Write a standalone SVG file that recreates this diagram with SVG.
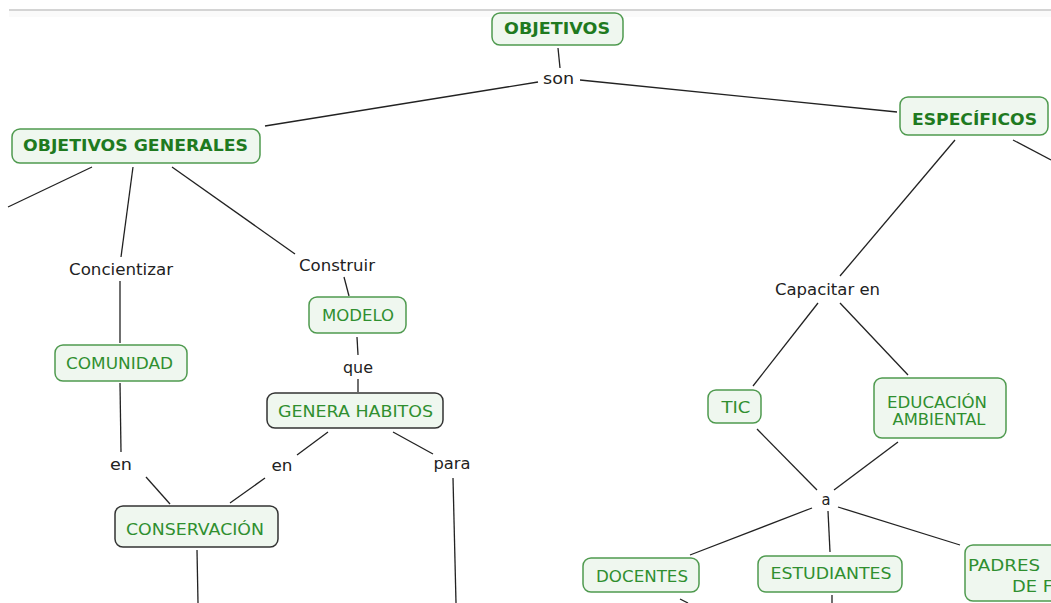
<svg xmlns="http://www.w3.org/2000/svg" width="1051" height="603" viewBox="0 0 1051 603">
  <style>
    .node rect { fill: #eff7ef; stroke: #4f9a4f; stroke-width: 1.5; }
    .node.dark rect { stroke: #333333; }
    .node text { font-family: "DejaVu Sans", Verdana, sans-serif; font-size: 16px; fill: #2f8f2f; text-anchor: middle; }
    .node.main text { font-weight: bold; font-size: 15.5px; fill: #1f7a1f; }
    .lbl { font-family: "DejaVu Sans", Verdana, sans-serif; font-size: 16px; fill: #222222; text-anchor: middle; }
    .links line { stroke: #222222; stroke-width: 1.3; fill: none; }
  </style>

  <rect x="0" y="0" width="1051" height="603" fill="#ffffff"/>
  <!-- top rule -->
  <rect x="9" y="11" width="1042" height="6" fill="#fafafa"/>
  <line x1="9" y1="10" x2="1051" y2="10" stroke="#d4d4d4" stroke-width="2"/>

  <!-- connectors -->
  <g id="connectors" class="links">
    <line x1="558" y1="48" x2="560" y2="68"/>
    <line x1="538" y1="82" x2="265" y2="126"/>
    <line x1="580" y1="80" x2="897" y2="112"/>
    <line x1="92" y1="167" x2="8" y2="207"/>
    <line x1="133" y1="167" x2="121" y2="257"/>
    <line x1="172" y1="167" x2="295" y2="254"/>
    <line x1="120" y1="281" x2="120" y2="343"/>
    <line x1="120" y1="383" x2="121" y2="452"/>
    <line x1="146" y1="477" x2="170" y2="504"/>
    <line x1="344" y1="277" x2="349" y2="296"/>
    <line x1="357" y1="337" x2="358" y2="355"/>
    <line x1="358" y1="379" x2="358" y2="392"/>
    <line x1="328" y1="432" x2="297" y2="455"/>
    <line x1="265" y1="478" x2="230" y2="503"/>
    <line x1="393" y1="432" x2="433" y2="454"/>
    <line x1="453" y1="478" x2="456" y2="603"/>
    <line x1="197" y1="550" x2="198" y2="603"/>
    <line x1="955" y1="140" x2="840" y2="276"/>
    <line x1="1013" y1="140" x2="1051" y2="160"/>
    <line x1="818" y1="303" x2="753" y2="386"/>
    <line x1="840" y1="303" x2="908" y2="375"/>
    <line x1="757" y1="429" x2="817" y2="490"/>
    <line x1="898" y1="442" x2="834" y2="490"/>
    <line x1="812" y1="508" x2="690" y2="555"/>
    <line x1="828" y1="511" x2="830" y2="552"/>
    <line x1="838" y1="507" x2="960" y2="545"/>
    <line x1="680" y1="599" x2="688" y2="603"/>
    <line x1="832" y1="595" x2="832" y2="603"/>
  </g>

  <!-- linking phrases -->
  <g id="link-labels">
    <text class="lbl" x="558.5" y="84" textLength="31" lengthAdjust="spacingAndGlyphs">son</text>
    <text class="lbl" x="121" y="275" textLength="104" lengthAdjust="spacingAndGlyphs">Concientizar</text>
    <text class="lbl" x="337" y="271" textLength="76" lengthAdjust="spacingAndGlyphs">Construir</text>
    <text class="lbl" x="358" y="373" textLength="30" lengthAdjust="spacingAndGlyphs">que</text>
    <text class="lbl" x="121" y="470" textLength="22" lengthAdjust="spacingAndGlyphs">en</text>
    <text class="lbl" x="282" y="471" textLength="21" lengthAdjust="spacingAndGlyphs">en</text>
    <text class="lbl" x="452" y="469" textLength="37" lengthAdjust="spacingAndGlyphs">para</text>
    <text class="lbl" x="827.5" y="295" textLength="105" lengthAdjust="spacingAndGlyphs">Capacitar en</text>
    <text class="lbl" x="826" y="505" textLength="9" lengthAdjust="spacingAndGlyphs">a</text>
  </g>

  <!-- concepts -->
  <g id="objetivos" class="node main">
    <rect x="492" y="13" width="131" height="32" rx="8"/>
    <text x="557" y="34" textLength="106" lengthAdjust="spacingAndGlyphs">OBJETIVOS</text>
  </g>
  <g id="objetivos-generales" class="node main">
    <rect x="12" y="129" width="248" height="34" rx="8"/>
    <text x="135.5" y="151" textLength="225" lengthAdjust="spacingAndGlyphs">OBJETIVOS GENERALES</text>
  </g>
  <g id="especificos" class="node main">
    <rect x="900" y="97" width="148" height="38" rx="8"/>
    <text x="974.5" y="125" textLength="125" lengthAdjust="spacingAndGlyphs">ESPECÍFICOS</text>
  </g>
  <g id="comunidad" class="node">
    <rect x="55" y="345" width="132" height="36" rx="8"/>
    <text x="119.5" y="369" textLength="107" lengthAdjust="spacingAndGlyphs">COMUNIDAD</text>
  </g>
  <g id="modelo" class="node">
    <rect x="309" y="297" width="97" height="36" rx="8"/>
    <text x="358" y="321" textLength="72" lengthAdjust="spacingAndGlyphs">MODELO</text>
  </g>
  <g id="genera-habitos" class="node dark">
    <rect x="267" y="393" width="176" height="35" rx="8"/>
    <text x="355.5" y="417" textLength="155" lengthAdjust="spacingAndGlyphs">GENERA HABITOS</text>
  </g>
  <g id="conservacion" class="node dark">
    <rect x="115" y="506" width="163" height="41" rx="8"/>
    <text x="195" y="535" textLength="138" lengthAdjust="spacingAndGlyphs">CONSERVACIÓN</text>
  </g>
  <g id="tic" class="node">
    <rect x="708" y="390" width="53" height="33" rx="8"/>
    <text x="736" y="413" textLength="29" lengthAdjust="spacingAndGlyphs">TIC</text>
  </g>
  <g id="educacion-ambiental" class="node">
    <rect x="874" y="378" width="132" height="60" rx="8"/>
    <text x="937" y="408" textLength="100" lengthAdjust="spacingAndGlyphs">EDUCACIÓN</text>
    <text x="939" y="425" textLength="93" lengthAdjust="spacingAndGlyphs">AMBIENTAL</text>
  </g>
  <g id="docentes" class="node">
    <rect x="583" y="558" width="116" height="34" rx="8"/>
    <text x="642" y="582" textLength="92" lengthAdjust="spacingAndGlyphs">DOCENTES</text>
  </g>
  <g id="estudiantes" class="node">
    <rect x="758" y="556" width="144" height="36" rx="8"/>
    <text x="831" y="579" textLength="121" lengthAdjust="spacingAndGlyphs">ESTUDIANTES</text>
  </g>
  <g id="padres" class="node">
    <rect x="965" y="545" width="100" height="56" rx="8"/>
    <text x="968" y="571" style="text-anchor:start" textLength="72" lengthAdjust="spacingAndGlyphs">PADRES</text>
    <text x="1012" y="592" style="text-anchor:start" textLength="41" lengthAdjust="spacingAndGlyphs">DE F</text>
  </g>
</svg>
